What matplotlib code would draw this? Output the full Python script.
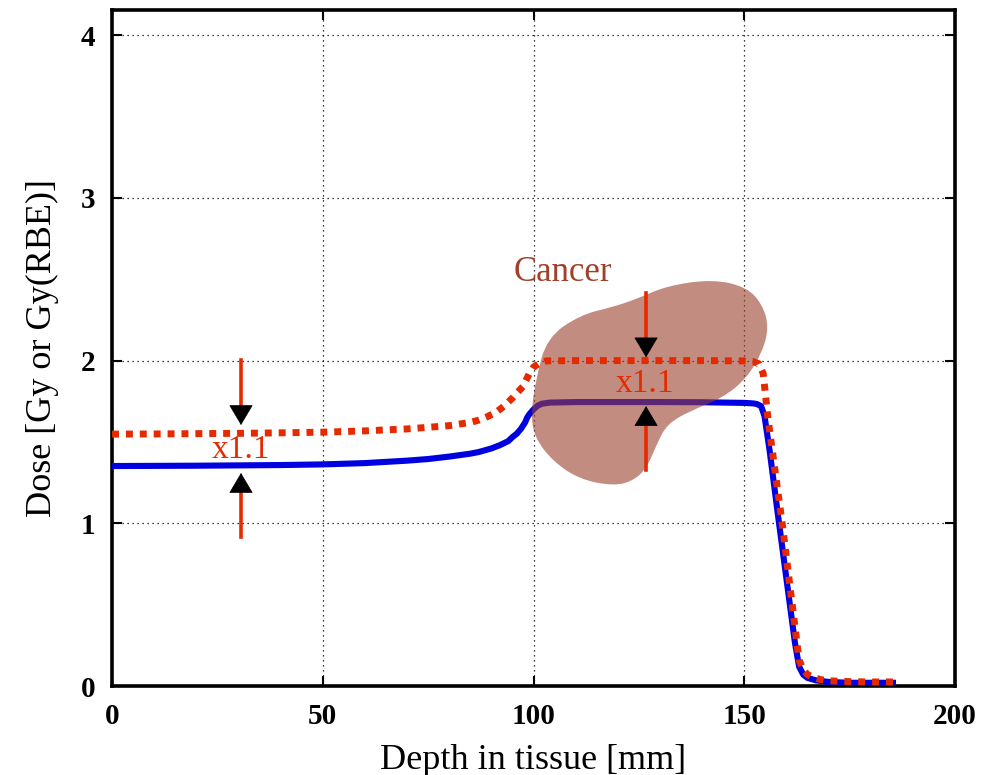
import numpy as np
import matplotlib
matplotlib.use('Agg')
import matplotlib.pyplot as plt
from matplotlib.path import Path
from matplotlib.patches import PathPatch

plt.rcParams['font.family'] = ['Liberation Serif', 'DejaVu Serif']

# Physical dose (blue)
depth_phys = [0, 10, 20, 30, 40, 50, 60, 64, 70, 75, 80, 85, 87, 90, 92, 94, 95, 96, 97,
              98, 98.5, 99, 100, 101, 102, 104, 110, 120, 130, 140, 150, 152, 153, 154,
              154.8, 156, 158, 160, 162, 163, 164, 165, 167, 170, 175, 180, 186]
dose_phys = [1.352, 1.353, 1.354, 1.356, 1.358, 1.362, 1.37, 1.376, 1.385, 1.395, 1.41,
             1.428, 1.438, 1.46, 1.48, 1.505, 1.53, 1.55, 1.58, 1.62, 1.65, 1.67, 1.70,
             1.723, 1.735, 1.742, 1.745, 1.745, 1.745, 1.744, 1.74, 1.737, 1.733, 1.72,
             1.66, 1.45, 1.05, 0.66, 0.27, 0.12, 0.07, 0.05, 0.035, 0.025, 0.02, 0.02, 0.02]

# RBE-weighted dose (red dotted)
depth_rbe = [0, 10, 20, 30, 40, 50, 60, 64, 70, 75, 80, 85, 87, 89, 91, 93, 95, 96, 97.5,
             99, 100, 101.5, 103, 110, 120, 130, 140, 150, 152, 153.5, 154.5, 155.6, 157,
             159, 161, 163, 164, 165, 166.3, 168, 170, 175, 180, 185.3]
dose_rbe = [1.548, 1.549, 1.551, 1.553, 1.556, 1.56, 1.568, 1.573, 1.58, 1.59, 1.60, 1.62,
            1.634, 1.655, 1.68, 1.72, 1.77, 1.80, 1.84, 1.92, 1.96, 1.985, 1.998, 2.0,
            2.0, 2.0, 2.0, 1.998, 1.995, 1.98, 1.92, 1.65, 1.38, 1.0, 0.58, 0.16, 0.1,
            0.07, 0.055, 0.04, 0.032, 0.027, 0.025, 0.025]

# Tumour outline (control points of a smooth closed curve)
blob_x = [103.2, 111.0, 118.9, 124.6, 131.7, 142.6, 150.7, 154.4, 155.8, 154.4, 150.7,
          145.0, 137.1, 131.7, 129.3, 126.9, 123.6, 118.9, 111.0, 104.6, 100.2, 99.4, 100.6]
blob_y = [2.14, 2.28, 2.33, 2.38, 2.46, 2.50, 2.45, 2.34, 2.206, 2.06, 1.895,
          1.772, 1.69, 1.61, 1.49, 1.34, 1.26, 1.23, 1.27, 1.38, 1.530, 1.677, 1.890]

# x1.1 arrows: x position, shaft start, head base, tip
arr_x = [30.6, 30.6, 126.7, 126.7]
arr_start = [2.003, 0.915, 2.415, 1.327]
arr_base = [1.714, 1.19, 2.138, 1.61]
arr_tip = [1.604, 1.309, 2.02, 1.72]
lab_x = [30.6, 126.5]
lab_y = [1.45, 1.86]

red = '#e62a00'
blue = '#0000e0'

fig = plt.figure(figsize=(9.88, 7.75), dpi=100)
ax = fig.add_axes([0.1134, 0.1148, 0.8532, 0.8722])

ax.plot(depth_phys, dose_phys, color=blue, lw=4.4, solid_joinstyle='round',
        solid_capstyle='butt', zorder=3)

# smooth closed outline through midpoints of the control polygon
n = len(blob_x)
verts = [((blob_x[-1] + blob_x[0]) / 2, (blob_y[-1] + blob_y[0]) / 2)]
codes = [Path.MOVETO]
for i in range(n):
    j = (i + 1) % n
    verts.append((blob_x[i], blob_y[i]))
    verts.append(((blob_x[i] + blob_x[j]) / 2, (blob_y[i] + blob_y[j]) / 2))
    codes += [Path.CURVE3, Path.CURVE3]
ax.add_patch(PathPatch(Path(verts, codes), facecolor='#9c3f2e', alpha=0.6,
                       edgecolor='none', zorder=4))

ax.plot(depth_rbe, dose_rbe, color=red, lw=5, linestyle=(0, (1.0, 1.0)),
        dash_capstyle='butt', zorder=5)

for i in range(len(arr_x)):
    ax.plot([arr_x[i], arr_x[i]], [arr_start[i], arr_base[i]], color=red, lw=2.6, zorder=6)
    ax.annotate('', xy=(arr_x[i], arr_tip[i]), xytext=(arr_x[i], arr_base[i]),
                arrowprops=dict(arrowstyle='-|>,head_length=1.35,head_width=0.8',
                                mutation_scale=10, color='black', lw=0.5,
                                shrinkA=0, shrinkB=0), zorder=7)

for i in range(len(lab_x)):
    ax.text(lab_x[i], lab_y[i], 'x1.1', color=red, fontsize=24, ha='center', va='center',
            zorder=8)
ax.text(107.0, 2.544, 'Cancer', color='#a0402a', fontsize=25, ha='center', va='center',
        zorder=8)

ax.set_xlim(0, 200)
ax.set_ylim(0, 4.154)
ax.set_xticks([0, 50, 100, 150, 200])
ax.set_yticks([0, 1, 2, 3, 4])
ax.grid(True, color='black', linestyle=(0, (1, 3)), lw=0.9)
ax.tick_params(direction='in', length=7, width=1.5, top=True, right=True,
               labelsize=21, pad=12)
for lbl in ax.get_xticklabels() + ax.get_yticklabels():
    lbl.set_fontweight('semibold')
for s in ax.spines.values():
    s.set_linewidth(2.6)
ax.set_xlabel('Depth in tissue [mm]', fontsize=26, labelpad=10)
ax.set_ylabel('Dose [Gy or Gy(RBE)]', fontsize=26, labelpad=16)

fig.savefig('out.png', dpi=100)
